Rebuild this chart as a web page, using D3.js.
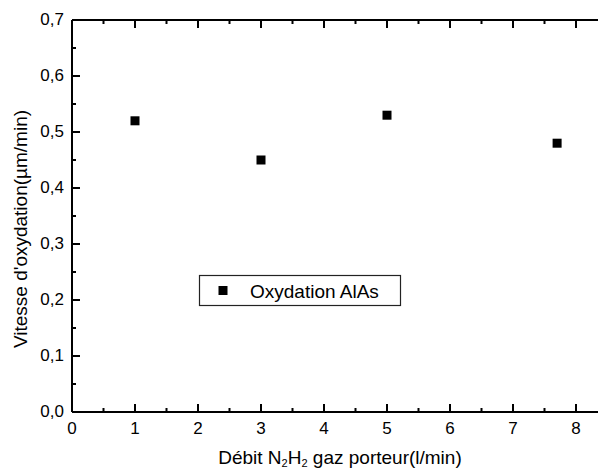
<!DOCTYPE html>
<html><head><meta charset="utf-8">
<script src="https://cdn.jsdelivr.net/npm/d3@7"></script>
<style>body{margin:0;background:#fff}svg{display:block}text{font-family:"Liberation Sans",Arial,sans-serif;fill:#000}</style>
</head><body><svg id="c" width="598" height="469"></svg>
<script>
const flowRates = [1, 3, 5, 7.7];
const oxidationRates = [0.52, 0.45, 0.53, 0.48];
const xTicks = [0, 1, 2, 3, 4, 5, 6, 7, 8];
const yTicks = [0, 0.1, 0.2, 0.3, 0.4, 0.5, 0.6, 0.7];
const seriesName = "Oxydation AlAs";

const svg = d3.select("#c");
const x = d3.scaleLinear().domain([0, 8.6]).range([72, 72 + 8.6 * 63]);
const y = d3.scaleLinear().domain([0, 0.7]).range([412, 20]);
const fmt = d => d3.format(".1f")(d).replace(".", ",");
const SW = 2;

const xMinor = d3.range(0.5, 8.6, 1);
const yMinor = d3.range(0.05, 0.7, 0.1);
const FONT = "Liberation Sans, Arial, sans-serif";

// frame top
svg.append("line").attr("x1", x(0)).attr("x2", 598).attr("y1", y(0.7)).attr("y2", y(0.7)).attr("stroke", "#000").attr("stroke-width", SW);

function ticksOnly(axis) {
  return g => { g.call(axis.offset(0)); g.select(".domain").remove(); g.selectAll("line").attr("stroke-width", SW); };
}

// bottom axis
const gx = svg.append("g").attr("transform", `translate(0,${y(0)})`)
  .call(d3.axisBottom(x).offset(0).tickValues(xTicks).tickSizeInner(-8).tickSizeOuter(0).tickPadding(10).tickFormat(d3.format("d")));
gx.select(".domain").attr("stroke-width", SW);
gx.selectAll(".tick line").attr("stroke-width", SW);
gx.selectAll("text").attr("font-size", 17).style("font-family", FONT);
svg.append("g").attr("transform", `translate(0,${y(0)})`)
  .call(ticksOnly(d3.axisBottom(x).tickValues(xMinor).tickSizeInner(-4).tickSizeOuter(0).tickFormat("")));

// top axis (ticks only)
svg.append("g").attr("transform", `translate(0,${y(0.7)})`)
  .call(ticksOnly(d3.axisTop(x).tickValues(xTicks).tickSizeInner(-8).tickSizeOuter(0).tickFormat("")));
svg.append("g").attr("transform", `translate(0,${y(0.7)})`)
  .call(ticksOnly(d3.axisTop(x).tickValues(xMinor).tickSizeInner(-4).tickSizeOuter(0).tickFormat("")));

// left axis
const gy = svg.append("g").attr("transform", `translate(${x(0)},0)`)
  .call(d3.axisLeft(y).offset(0).tickValues(yTicks).tickSizeInner(-8).tickSizeOuter(0).tickPadding(8).tickFormat(fmt));
gy.select(".domain").attr("stroke-width", SW);
gy.selectAll(".tick line").attr("stroke-width", SW);
gy.selectAll("text").attr("font-size", 17).style("font-family", FONT);
svg.append("g").attr("transform", `translate(${x(0)},0)`)
  .call(ticksOnly(d3.axisLeft(y).tickValues(yMinor).tickSizeInner(-4).tickSizeOuter(0).tickFormat("")));

// points
const ms = 9;
svg.append("g").selectAll("rect").data(flowRates.map((f, i) => [f, oxidationRates[i]])).join("rect")
  .attr("x", d => x(d[0]) - ms / 2).attr("y", d => y(d[1]) - ms / 2)
  .attr("width", ms).attr("height", ms).attr("fill", "#000");

// legend
const lg = svg.append("g");
lg.append("rect").attr("x", 199.5).attr("y", 275.5).attr("width", 201).attr("height", 30)
  .attr("fill", "#fff").attr("stroke", "#222").attr("stroke-width", 1.2);
lg.append("rect").attr("x", 223 - ms / 2).attr("y", 290.5 - ms / 2).attr("width", ms).attr("height", ms).attr("fill", "#000");
lg.append("text").attr("x", 250).attr("y", 297.5).attr("font-size", 19).text(seriesName);

// axis titles
const xt = svg.append("text").attr("x", 340).attr("y", 464).attr("text-anchor", "middle").attr("font-size", 19);
xt.append("tspan").text("Débit N");
xt.append("tspan").attr("font-size", 11).attr("dy", 3).text("2");
xt.append("tspan").attr("dy", -3).text("H");
xt.append("tspan").attr("font-size", 11).attr("dy", 3).text("2");
xt.append("tspan").attr("dy", -3).text(" gaz porteur(l/min)");

svg.append("text").attr("transform", `translate(27,229) rotate(-90)`)
  .attr("text-anchor", "middle").attr("font-size", 19).text("Vitesse d'oxydation(µm/min)");
</script></body></html>
